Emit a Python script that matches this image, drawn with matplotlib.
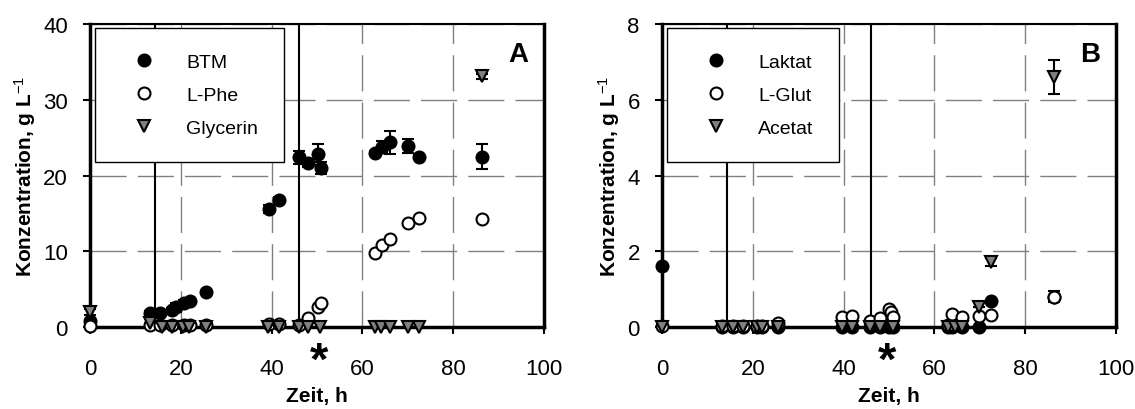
import matplotlib
matplotlib.use('Agg')
import matplotlib.pyplot as plt
import matplotlib.transforms as mtrans
import numpy as np

plt.rcParams['font.family'] = ['Liberation Sans', 'DejaVu Sans']
plt.rcParams['mathtext.fontset'] = 'custom'
plt.rcParams['mathtext.rm'] = 'Liberation Sans'
plt.rcParams['mathtext.it'] = 'Liberation Sans'
plt.rcParams['mathtext.bf'] = 'Liberation Sans:bold'

# Panel A: biomass, L-Phe, glycerol (g/L) vs time (h)
t_btm = [0, 13.2, 15.4, 18.0, 19.0, 20.6, 22.0, 25.6, 39.4, 41.6, 46.0, 48.0, 50.2, 50.9,
         62.8, 64.4, 66.1, 70.0, 72.5, 86.3]
btm = [0.8, 1.8, 1.8, 2.2, 2.6, 3.2, 3.4, 4.6, 15.6, 16.8, 22.4, 21.6, 22.8, 21.0,
       23.0, 23.8, 24.4, 23.9, 22.5, 22.5]
btm_err = [0, 0.3, 0.2, 0.3, 0.6, 0.3, 0.3, 0.2, 0.5, 0.3, 0.9, 0.5, 1.4, 0.8,
           0.3, 0.8, 1.5, 0.9, 0.2, 1.6]

t_phe = [0, 13.2, 15.4, 18.0, 20.6, 22.0, 25.6, 39.4, 41.6, 46.0, 48.0, 50.2, 50.9,
         62.8, 64.4, 66.1, 70.0, 72.5, 86.3]
phe = [0.1, 0.2, 0.2, 0.2, 0.2, 0.3, 0.3, 0.4, 0.4, 0.3, 1.2, 2.6, 3.2,
       9.8, 10.8, 11.6, 13.7, 14.4, 14.3]

t_gly = [0, 13.2, 15.9, 18.1, 20.5, 21.8, 25.6, 39.2, 41.6, 46.0, 48.0, 50.7,
         62.8, 64.2, 66.1, 70.0, 72.5, 86.3]
gly = [2.0, 0.5, 0, 0, 0, 0, 0, 0, 0, 0, 0, 0, 0, 0, 0, 0, 0, 33.1]
gly_err = [0.4, 0, 0, 0, 0, 0, 0, 0, 0, 0, 0, 0, 0, 0, 0, 0, 0, 0.3]

# Panel B: lactate, L-glutamate, acetate (g/L) vs time (h)
t_lak = [0, 13.1, 15.7, 17.9, 20.9, 22.0, 25.5, 39.6, 41.8, 45.8, 47.9, 49.9, 50.9,
         63.0, 63.8, 66.0, 69.9, 72.5, 86.3]
lak = [1.62, 0, 0, 0, 0, 0, 0, 0, 0, 0, 0, 0, 0, 0, 0, 0, 0.0, 0.69, 0.78]

t_glut = [0, 13.1, 15.7, 17.9, 20.9, 22.0, 25.5, 39.6, 41.8, 45.8, 47.9, 49.9, 50.4, 50.9,
          63.0, 63.8, 66.0, 69.9, 72.5, 86.3]
glut = [0.03, 0.03, 0.03, 0.03, 0.03, 0.03, 0.1, 0.26, 0.28, 0.17, 0.23, 0.48, 0.4, 0.26,
        0.05, 0.34, 0.26, 0.3, 0.32, 0.8]
glut_err = [0] * 19 + [0.14]

t_ace = [0, 13.1, 15.7, 17.9, 20.9, 22.0, 25.5, 39.6, 41.8, 45.8, 47.9, 50.9,
         63.0, 64.5, 66.0, 69.9, 72.5, 86.3]
ace = [0, 0, 0, 0, 0, 0, 0, 0, 0, 0, 0, 0, 0, 0, 0, 0.52, 1.71, 6.6]
ace_err = [0] * 16 + [0.1, 0.45]

feed_times = [14.3, 46.0]
star_time = [50.4, 49.6]

fig = plt.figure(figsize=(11.35, 4.10), dpi=100)
axA = fig.add_axes([0.0793, 0.2, 0.4, 0.739])
axB = fig.add_axes([0.5833, 0.2, 0.4, 0.739])

ms = 8.6


def style(ax, ymax, ystep):
    ax.set_xlim(0, 100)
    ax.set_ylim(0, ymax)
    ax.set_xticks(np.arange(0, 101, 20))
    ax.set_yticks(np.arange(0, ymax + 0.1, ystep))
    ax.grid(True, color='#808080', linestyle=(0, (26, 8)), linewidth=1.0)
    ax.set_axisbelow(True)
    for s in ['left', 'bottom', 'right']:
        ax.spines[s].set_linewidth(2.5)
    ax.spines['top'].set_linewidth(1.5)
    ax.tick_params(direction='out', length=5, width=1.5, labelsize=16)
    ax.tick_params(axis='x', pad=17)
    ax.tick_params(axis='y', pad=11)
    for t in feed_times:
        ax.axvline(t, color='black', linewidth=1.5, zorder=2)
    ax.set_xlabel('Zeit, h', fontsize=15, fontweight='bold')
    ax.set_ylabel(r'Konzentration, g L$^{-1}$', fontsize=15, fontweight='bold')
    ax.xaxis.set_label_coords(0.5, -0.195)


def series(ax, t, y, err, face, label):
    ax.errorbar(t, y, yerr=err, fmt='o' if label not in ('Glycerin', 'Acetat') else 'v',
                ms=ms, mfc=face, mec='black', mew=1.5, ecolor='black', elinewidth=1.5,
                capsize=4.5, capthick=1.5, linestyle='none', label=label, zorder=3,
                clip_on=False)


style(axA, 40, 10)
series(axA, t_btm, btm, btm_err, 'black', 'BTM')
series(axA, t_phe, phe, None, 'white', 'L-Phe')
series(axA, t_gly, gly, gly_err, '#808080', 'Glycerin')
axA.yaxis.set_label_coords(-0.115, 0.5)

style(axB, 8, 2)
series(axB, t_lak, lak, None, 'black', 'Laktat')
series(axB, t_glut, glut, glut_err, 'white', 'L-Glut')
series(axB, t_ace, ace, ace_err, '#808080', 'Acetat')
axB.yaxis.set_label_coords(-0.088, 0.5)

for ax, letter, st in [(axA, 'A', star_time[0]), (axB, 'B', star_time[1])]:
    h, l = ax.get_legend_handles_labels()
    h = [x[0] for x in h]
    leg = ax.legend(h, l, loc='upper left', bbox_to_anchor=(0.011, 0.987), fontsize=14,
                    frameon=True, fancybox=False, framealpha=1, edgecolor='black',
                    borderpad=1.3, handlelength=2.4, handletextpad=1.0, labelspacing=0.8,
                    borderaxespad=0)
    leg.get_frame().set_linewidth(1.0)
    leg.set_zorder(5)
    ax.text(0.965, 0.945, letter, transform=ax.transAxes, ha='right', va='top',
            fontsize=20, fontweight='bold')
    trans = mtrans.blended_transform_factory(ax.transData, ax.transAxes)
    ax.text(st, -0.115, '*', transform=trans, ha='center', va='center',
            fontsize=34, fontweight='bold', clip_on=False)

fig.savefig('out.png', dpi=100)
